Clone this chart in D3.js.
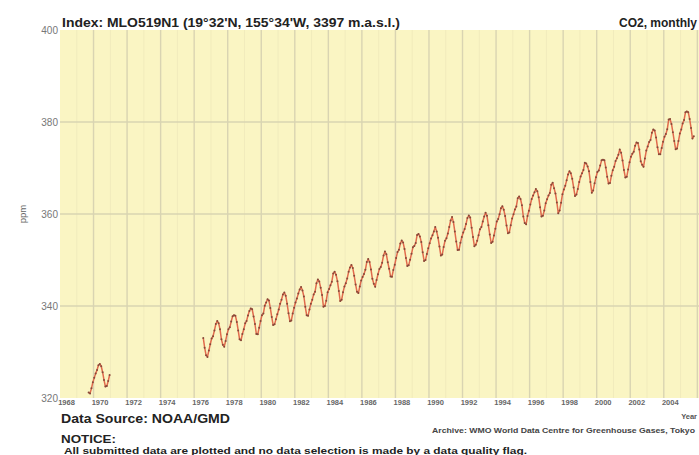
<!DOCTYPE html>
<html>
<head>
<meta charset="utf-8">
<script src="https://cdn.jsdelivr.net/npm/d3@7"></script>
<style>
  html, body { margin: 0; padding: 0; background: #ffffff; }
  svg { display: block; }
  text { font-family: "Liberation Sans", Arial, sans-serif; }
</style>
</head>
<body>
<svg id="chart" width="699" height="455"></svg>
<script>
// Mauna Loa monthly mean CO2 (ppm)
// Early record: September 1969 - December 1970
const earlyStart = { year: 1969, month: 8 };
const earlyValues = [
  321.2, 321.0, 322.1, 323.4,
  324.4, 325.3, 326.1, 327.1, 327.4, 326.9, 325.6, 323.9, 322.5, 322.6, 323.7, 325.0
];

// Continuous record: July 1976 - October 2005
const mainStart = { year: 1976, month: 6 };
const mainValues = [
  333.05, 330.94, 329.30, 328.94, 330.31, 331.68,
  332.93, 333.42, 334.70, 336.07, 336.74, 336.27, 334.93, 332.75, 331.58, 331.16, 332.40, 333.85,
  334.97, 335.39, 336.64, 337.76, 338.01, 337.89, 336.54, 334.68, 332.76, 332.54, 333.92, 334.95,
  336.23, 336.76, 337.96, 338.89, 339.47, 339.29, 337.73, 336.09, 333.91, 333.86, 335.29, 336.73,
  338.01, 338.36, 340.08, 340.77, 341.46, 341.17, 339.56, 337.60, 335.88, 336.01, 337.10, 338.21,
  339.24, 340.48, 341.38, 342.51, 342.91, 342.25, 340.49, 338.43, 336.69, 336.85, 338.36, 339.61,
  340.75, 341.61, 342.70, 343.57, 344.14, 343.35, 342.06, 339.82, 337.97, 337.86, 339.26, 340.49,
  341.38, 342.52, 343.10, 344.94, 345.75, 345.32, 343.99, 342.39, 339.86, 339.99, 341.16, 342.99,
  343.70, 344.51, 345.28, 347.08, 347.43, 346.79, 345.40, 343.28, 341.07, 341.35, 342.98, 344.22,
  344.97, 346.00, 347.43, 348.35, 348.93, 348.25, 346.56, 344.69, 343.09, 342.80, 344.24, 345.56,
  346.29, 346.96, 347.86, 349.55, 350.21, 349.54, 347.94, 345.91, 344.86, 344.17, 345.66, 346.90,
  348.02, 348.47, 349.42, 350.99, 351.84, 351.25, 349.52, 348.10, 346.44, 346.36, 347.81, 348.96,
  350.43, 351.72, 352.22, 353.59, 354.22, 353.79, 352.39, 350.44, 348.72, 348.88, 350.07, 351.34,
  352.76, 353.07, 353.68, 355.42, 355.67, 355.13, 353.90, 351.67, 349.80, 349.99, 351.30, 352.53,
  353.66, 354.70, 355.39, 356.20, 357.16, 356.22, 354.82, 352.91, 350.96, 351.18, 352.83, 354.21,
  354.72, 355.75, 357.16, 358.60, 359.34, 358.24, 356.17, 354.02, 352.15, 352.21, 353.75, 354.99,
  355.99, 356.72, 357.81, 359.15, 359.66, 359.25, 357.03, 355.00, 353.01, 353.31, 354.16, 355.40,
  356.70, 357.16, 358.38, 359.46, 360.28, 359.60, 357.57, 355.52, 353.70, 353.98, 355.33, 356.80,
  358.36, 358.91, 359.97, 361.26, 361.68, 360.95, 359.55, 357.49, 355.84, 355.99, 357.58, 359.04,
  359.97, 361.00, 361.64, 363.45, 363.79, 363.26, 361.90, 359.46, 358.06, 357.75, 359.56, 360.70,
  362.05, 363.25, 364.03, 364.72, 365.41, 364.97, 363.65, 361.49, 359.46, 359.60, 360.76, 362.33,
  363.18, 364.00, 364.57, 366.35, 366.79, 365.62, 364.47, 362.51, 360.19, 360.77, 362.43, 364.28,
  365.33, 366.15, 367.31, 368.61, 369.29, 368.87, 367.64, 365.77, 363.90, 364.23, 365.46, 366.97,
  368.15, 368.87, 369.59, 371.14, 371.00, 370.35, 369.27, 366.94, 364.63, 365.12, 366.67, 368.01,
  369.14, 369.46, 370.52, 371.66, 371.82, 371.70, 370.12, 368.12, 366.62, 366.73, 368.29, 369.53,
  370.28, 371.50, 372.12, 372.87, 374.02, 373.30, 371.62, 369.55, 367.96, 368.09, 369.68, 371.24,
  372.43, 373.09, 373.52, 374.86, 375.55, 375.41, 374.02, 371.49, 370.71, 370.25, 372.08, 373.78,
  374.68, 375.63, 376.11, 377.65, 378.35, 378.13, 376.62, 374.50, 372.99, 373.01, 374.35, 375.70,
  376.79, 377.37, 378.41, 380.52, 380.63, 379.57, 377.79, 375.86, 374.06, 374.24, 375.86, 377.48,
  378.37, 379.69, 380.41, 382.10, 382.28, 382.13, 380.66, 378.71, 376.42, 376.88
];

const yTicks = [320, 340, 360, 380, 400];
const xTicks = [1968, 1970, 1972, 1974, 1976, 1978, 1980, 1982, 1984, 1986,
                1988, 1990, 1992, 1994, 1996, 1998, 2000, 2002, 2004];

const titleLeft = "Index: MLO519N1 (19°32'N, 155°34'W, 3397 m.a.s.l.)";
const titleRight = "CO2, monthly";
const yLabel = "ppm";
const xLabel = "Year";
const sourceText = "Data Source: NOAA/GMD";
const archiveText = "Archive: WMO World Data Centre for Greenhouse Gases, Tokyo";
const noticeHead = "NOTICE:";
const noticeText = "All submitted data are plotted and no data selection is made by a data quality flag.";

// Turn a start month + list of values into dated points (mid-month decimal year)
function toPoints(start, values) {
  return values.map((v, i) => {
    const m = start.month + i;
    return { t: start.year + Math.floor(m / 12) + ((m % 12) + 0.5) / 12, v: v };
  });
}
const segments = [toPoints(earlyStart, earlyValues), toPoints(mainStart, mainValues)];

const svg = d3.select("#chart");
const plot = { left: 60, right: 699, top: 30, bottom: 398 };

const x = d3.scaleLinear().domain([1968, 2006.1]).range([plot.left, plot.right]);
const y = d3.scaleLinear().domain([320, 400]).range([plot.bottom, plot.top]);

// Plot background
svg.append("rect")
  .attr("x", plot.left).attr("y", plot.top)
  .attr("width", plot.right - plot.left).attr("height", plot.bottom - plot.top)
  .attr("fill", "#faf5c3");

// Yearly faint grid
svg.append("g")
  .selectAll("line")
  .data(d3.range(1969, 2006, 2))
  .join("line")
  .attr("x1", d => x(d)).attr("x2", d => x(d))
  .attr("y1", plot.top).attr("y2", plot.bottom)
  .attr("stroke", "#f1ebbc").attr("stroke-width", 1);

// Biennial grid
svg.append("g")
  .selectAll("line")
  .data(d3.range(1970, 2007, 2))
  .join("line")
  .attr("x1", d => x(d)).attr("x2", d => x(d))
  .attr("y1", plot.top).attr("y2", plot.bottom)
  .attr("stroke", "#d9d4b2").attr("stroke-width", 1.4);

// Horizontal grid
svg.append("g")
  .selectAll("line")
  .data(yTicks.slice(1, -1))
  .join("line")
  .attr("x1", plot.left).attr("x2", plot.right)
  .attr("y1", d => y(d)).attr("y2", d => y(d))
  .attr("stroke", "#d9d4b2").attr("stroke-width", 1.4);

// Y axis
const yAxis = svg.append("g")
  .attr("transform", `translate(${plot.left},0)`)
  .call(d3.axisLeft(y).tickValues(yTicks).tickSize(0).tickPadding(2).tickFormat(d3.format("d")));
yAxis.select(".domain").remove();
yAxis.selectAll("text")
  .attr("font-family", "Liberation Sans, Arial, sans-serif")
  .attr("font-size", 10).attr("fill", "#777777");

// X axis
const xAxis = svg.append("g")
  .attr("transform", `translate(0,${plot.bottom})`)
  .call(d3.axisBottom(x).tickValues(xTicks).tickSize(0).tickPadding(2).tickFormat(d3.format("d")));
xAxis.select(".domain").remove();
xAxis.selectAll("text")
  .attr("font-family", "Liberation Sans, Arial, sans-serif")
  .attr("font-size", 7.5).attr("fill", "#666666").attr("font-weight", "bold")
  .attr("dx", 6);

// Series
const line = d3.line().x(d => x(d.t)).y(d => y(d.v));
const series = svg.append("g");
segments.forEach(seg => {
  series.append("path")
    .datum(seg)
    .attr("d", line)
    .attr("fill", "none")
    .attr("stroke", "#e06a4c")
    .attr("stroke-width", 1.5)
    .attr("stroke-linejoin", "round");
  series.append("g")
    .selectAll("circle")
    .data(seg)
    .join("circle")
    .attr("cx", d => x(d.t)).attr("cy", d => y(d.v))
    .attr("r", 1)
    .attr("fill", "#85493a");
});

// Titles and notes
svg.append("text")
  .attr("x", 62).attr("y", 27)
  .attr("font-size", 12).attr("font-weight", "bold").attr("fill", "#222")
  .attr("textLength", 338).attr("lengthAdjust", "spacingAndGlyphs")
  .text(titleLeft);

svg.append("text")
  .attr("x", 697).attr("y", 27).attr("text-anchor", "end")
  .attr("font-size", 12).attr("font-weight", "bold").attr("fill", "#222")
  .text(titleRight);

svg.append("text")
  .attr("transform", `translate(26,${y(360)}) rotate(-90)`)
  .attr("text-anchor", "middle")
  .attr("font-size", 9.5).attr("fill", "#666")
  .text(yLabel);

svg.append("text")
  .attr("x", 697).attr("y", 419).attr("text-anchor", "end")
  .attr("font-size", 7.5).attr("font-weight", "bold").attr("fill", "#555")
  .text(xLabel);

svg.append("text")
  .attr("x", 61).attr("y", 423)
  .attr("font-size", 13.5).attr("font-weight", "bold").attr("fill", "#222")
  .attr("textLength", 169).attr("lengthAdjust", "spacingAndGlyphs")
  .text(sourceText);

svg.append("text")
  .attr("x", 695).attr("y", 433).attr("text-anchor", "end")
  .attr("font-size", 7.2).attr("font-weight", "bold").attr("fill", "#444")
  .attr("textLength", 263).attr("lengthAdjust", "spacingAndGlyphs")
  .text(archiveText);

svg.append("text")
  .attr("x", 61).attr("y", 443)
  .attr("font-size", 11).attr("font-weight", "bold").attr("fill", "#222")
  .attr("textLength", 55).attr("lengthAdjust", "spacingAndGlyphs")
  .text(noticeHead);

svg.append("text")
  .attr("x", 64).attr("y", 454)
  .attr("font-size", 9.5).attr("font-weight", "bold").attr("fill", "#222")
  .attr("textLength", 463).attr("lengthAdjust", "spacingAndGlyphs")
  .text(noticeText);
</script>
</body>
</html>
